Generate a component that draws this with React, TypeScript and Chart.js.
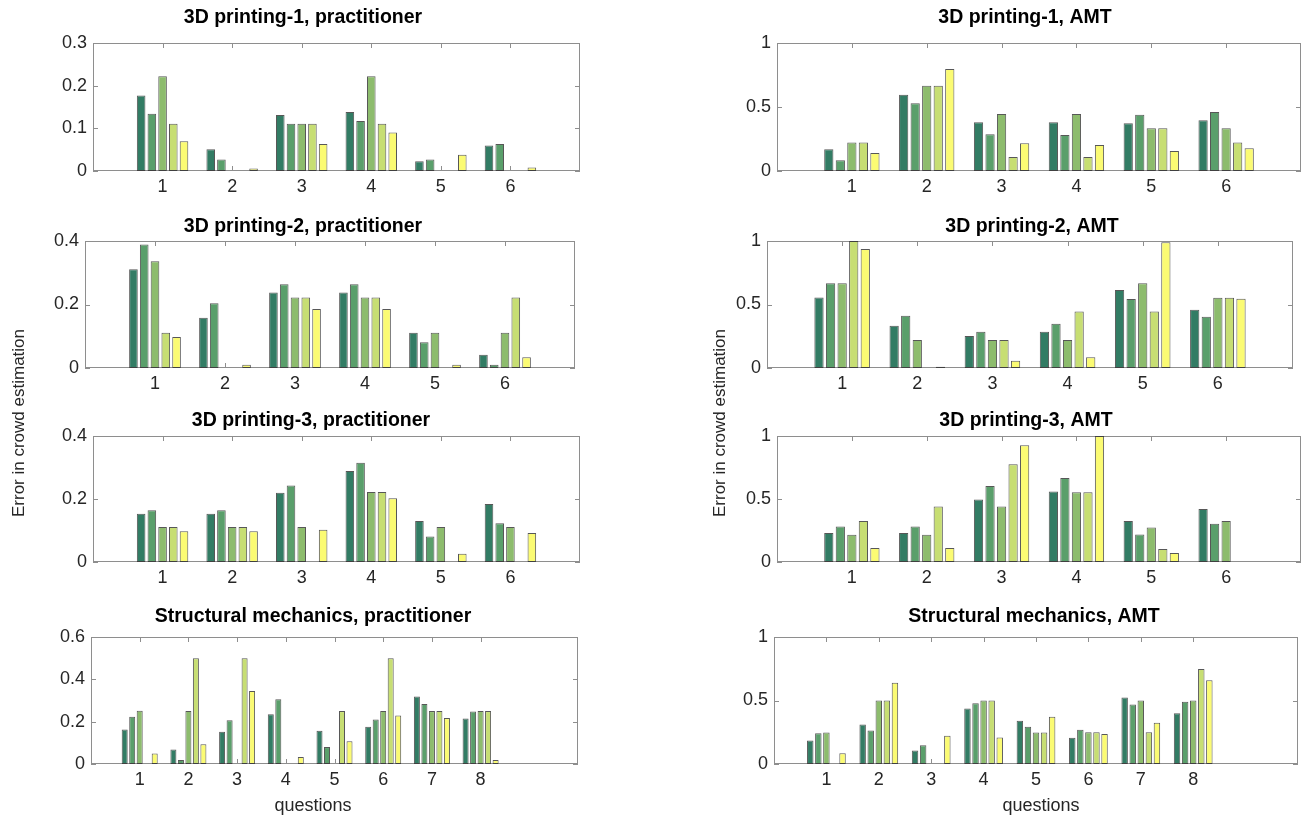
import React, { useEffect, useRef } from "react";
import { Chart, registerables } from "chart.js";

Chart.register(...registerables);

// ---------- data ----------
const questions6 = ["1", "2", "3", "4", "5", "6"];
const questions8 = ["1", "2", "3", "4", "5", "6", "7", "8"];

// each row = one bar series (dark green -> yellow), each column = one question
const print1Practitioner = [
  [0.177, 0.051, 0.131, 0.138, 0.023, 0.06],
  [0.134, 0.027, 0.111, 0.117, 0.027, 0.063],
  [0.222, 0, 0.111, 0.222, 0, 0],
  [0.111, 0, 0.111, 0.111, 0, 0],
  [0.07, 0.006, 0.063, 0.09, 0.038, 0.008],
];
const print2Practitioner = [
  [0.311, 0.158, 0.238, 0.238, 0.111, 0.042],
  [0.389, 0.204, 0.264, 0.264, 0.081, 0.01],
  [0.336, 0, 0.222, 0.222, 0.111, 0.111],
  [0.111, 0, 0.222, 0.222, 0, 0.222],
  [0.098, 0.01, 0.186, 0.186, 0.01, 0.034],
];
const print3Practitioner = [
  [0.153, 0.153, 0.22, 0.289, 0.13, 0.184],
  [0.164, 0.164, 0.243, 0.315, 0.081, 0.123],
  [0.111, 0.111, 0.111, 0.222, 0.111, 0.111],
  [0.111, 0.111, 0, 0.222, 0, 0],
  [0.098, 0.098, 0.102, 0.202, 0.026, 0.092],
];
const structPractitioner = [
  [0.163, 0.069, 0.152, 0.235, 0.157, 0.176, 0.319, 0.215],
  [0.223, 0.019, 0.207, 0.306, 0.08, 0.21, 0.284, 0.248],
  [0.251, 0.25, 0, 0, 0, 0.25, 0.25, 0.25],
  [0, 0.5, 0.5, 0, 0.25, 0.5, 0.25, 0.25],
  [0.05, 0.093, 0.345, 0.033, 0.108, 0.229, 0.217, 0.019],
];
const print1Amt = [
  [0.17, 0.595, 0.381, 0.381, 0.373, 0.397],
  [0.084, 0.53, 0.287, 0.282, 0.439, 0.46],
  [0.222, 0.666, 0.446, 0.446, 0.334, 0.334],
  [0.222, 0.666, 0.11, 0.11, 0.334, 0.222],
  [0.141, 0.796, 0.217, 0.204, 0.157, 0.178],
];
const print2Amt = [
  [0.556, 0.333, 0.252, 0.286, 0.614, 0.459],
  [0.667, 0.412, 0.286, 0.349, 0.543, 0.404],
  [0.667, 0.22, 0.22, 0.22, 0.667, 0.554],
  [1.0, 0, 0.22, 0.444, 0.444, 0.554],
  [0.937, 0.01, 0.058, 0.084, 0.99, 0.546],
];
const print3Amt = [
  [0.23, 0.23, 0.497, 0.56, 0.326, 0.421],
  [0.282, 0.282, 0.603, 0.666, 0.218, 0.303],
  [0.216, 0.216, 0.44, 0.553, 0.274, 0.326],
  [0.326, 0.44, 0.776, 0.553, 0.103, 0],
  [0.111, 0.111, 0.926, 1.0, 0.071, 0],
];
const structAmt = [
  [0.186, 0.312, 0.107, 0.437, 0.34, 0.207, 0.524, 0.4],
  [0.243, 0.264, 0.147, 0.479, 0.293, 0.27, 0.469, 0.49],
  [0.249, 0.5, 0, 0.5, 0.249, 0.25, 0.5, 0.5],
  [0, 0.5, 0, 0.5, 0.249, 0.25, 0.25, 0.749],
  [0.084, 0.639, 0.223, 0.209, 0.372, 0.236, 0.325, 0.66],
];

// ---------- styles ----------
const COLORS = ["#327c64", "#5a9f6b", "#8dbc6d", "#c7de73", "#fbfb73"];
const EDGE = "rgba(45,45,45,0.8)";
const AXIS = "#8e8e8e";
const TEXT = "#262626";
const FONT = "'Liberation Sans', Arial, Helvetica, sans-serif";

type PanelSpec = {
  title: string;
  series: number[][];
  questions: string[];
  xMax: number;
  yMax: number;
  yStep: number;
  L: number;
  R: number;
  T: number;
  B: number;
  titleX: number;
  titleY: number;
  xTitleX?: number;
};

const PAD_L = 70;
const PAD_T = 50;
const PAD_R = 4;

function Panel(p: PanelSpec) {
  const ref = useRef<HTMLCanvasElement | null>(null);
  const padB = p.xTitleX ? 66 : 36;
  const left = p.L - PAD_L;
  const top = p.T - PAD_T;
  const w = PAD_L + (p.R - p.L) + PAD_R;
  const h = PAD_T + (p.B - p.T) + padB;

  useEffect(() => {
    if (!ref.current) return;
    const n = p.questions.length;
    const labels: string[] = [""];
    p.questions.forEach((q) => labels.push(q));
    while (labels.length < p.xMax + 1) labels.push("");
    const pad = (vals: number[]) => {
      const out: (number | null)[] = [null];
      vals.forEach((v) => out.push(v));
      while (out.length < p.xMax + 1) out.push(null);
      return out;
    };

    const frame = {
      id: "matlabFrame",
      beforeDatasetsDraw(chart: any) {
        const { ctx, chartArea: a, scales } = chart;
        ctx.save();
        ctx.strokeStyle = AXIS;
        ctx.lineWidth = 1;
        ctx.strokeRect(Math.round(a.left) + 0.5, Math.round(a.top) + 0.5, Math.round(a.right - a.left) - 1, Math.round(a.bottom - a.top) - 1);
        const tl = 5;
        ctx.beginPath();
        for (let i = 1; i <= n; i++) {
          const x = Math.round(scales.x.getPixelForValue(i)) + 0.5;
          ctx.moveTo(x, a.bottom);
          ctx.lineTo(x, a.bottom - tl);
          ctx.moveTo(x, a.top);
          ctx.lineTo(x, a.top + tl);
        }
        scales.y.ticks.forEach((t: any) => {
          const y = Math.round(scales.y.getPixelForValue(t.value)) + 0.5;
          ctx.moveTo(a.left, y);
          ctx.lineTo(a.left + tl, y);
          ctx.moveTo(a.right, y);
          ctx.lineTo(a.right - tl, y);
        });
        ctx.stroke();
        ctx.restore();
      },
      afterDraw(chart: any) {
        const { ctx } = chart;
        ctx.save();
        ctx.fillStyle = "#000";
        ctx.font = `bold 19.5px ${FONT}`;
        ctx.textAlign = "center";
        ctx.textBaseline = "middle";
        ctx.fillText(p.title, p.titleX - left, p.titleY - top);
        if (p.xTitleX) {
          ctx.fillStyle = TEXT;
          ctx.font = `18px ${FONT}`;
          ctx.fillText("questions", p.xTitleX - left, 806 - top);
        }
        ctx.restore();
      },
    };

    const chart = new Chart(ref.current, {
      type: "bar",
      data: {
        labels,
        datasets: p.series.map((s, i) => ({
          data: pad(s),
          backgroundColor: COLORS[i],
          borderColor: EDGE,
          borderWidth: 1,
          borderSkipped: false,
          categoryPercentage: 0.77,
          barPercentage: 0.8,
        })) as any,
      },
      options: {
        responsive: false,
        animation: false,
        events: [],
        layout: { padding: { top: PAD_T, right: PAD_R, left: 0, bottom: 0 } },
        plugins: {
          legend: { display: false },
          tooltip: { enabled: false },
          title: { display: false },
        },
        scales: {
          x: {
            type: "category",
            offset: false,
            grid: { display: false, drawTicks: false },
            border: { display: false },
            ticks: {
              autoSkip: false,
              maxRotation: 0,
              minRotation: 0,
              padding: 5,
              color: TEXT,
              font: { family: FONT, size: 18 },
            },
            afterFit: (s: any) => {
              s.height = padB;
            },
          },
          y: {
            min: 0,
            max: p.yMax,
            grid: { display: false, drawTicks: false },
            border: { display: false },
            ticks: {
              stepSize: p.yStep,
              padding: 6,
              color: TEXT,
              font: { family: FONT, size: 18 },
              callback: (v: any) => String(Math.round(Number(v) * 10) / 10),
            },
            afterFit: (s: any) => {
              s.width = PAD_L;
            },
          },
        },
      } as any,
      plugins: [frame],
    });
    return () => chart.destroy();
  }, []);

  return (
    <div style={{ position: "absolute", left, top, width: w, height: h }}>
      <canvas ref={ref} width={w} height={h} style={{ width: w, height: h, display: "block" }} />
    </div>
  );
}

const panels: PanelSpec[] = [
  { title: "3D printing-1, practitioner", series: print1Practitioner, questions: questions6, xMax: 7, yMax: 0.3, yStep: 0.1, L: 93, R: 581, T: 43, B: 171, titleX: 303, titleY: 18 },
  { title: "3D printing-2, practitioner", series: print2Practitioner, questions: questions6, xMax: 7, yMax: 0.4, yStep: 0.2, L: 85, R: 576, T: 241, B: 368, titleX: 303, titleY: 227 },
  { title: "3D printing-3, practitioner", series: print3Practitioner, questions: questions6, xMax: 7, yMax: 0.4, yStep: 0.2, L: 93, R: 581, T: 436, B: 562, titleX: 311, titleY: 421 },
  { title: "Structural mechanics, practitioner", series: structPractitioner, questions: questions8, xMax: 10, yMax: 0.6, yStep: 0.2, L: 91, R: 579, T: 637, B: 764, titleX: 313, titleY: 617, xTitleX: 313 },
  { title: "3D printing-1, AMT", series: print1Amt, questions: questions6, xMax: 7, yMax: 1, yStep: 0.5, L: 777, R: 1302, T: 43, B: 171, titleX: 1025, titleY: 18 },
  { title: "3D printing-2, AMT", series: print2Amt, questions: questions6, xMax: 7, yMax: 1, yStep: 0.5, L: 767, R: 1294, T: 241, B: 368, titleX: 1032, titleY: 227 },
  { title: "3D printing-3, AMT", series: print3Amt, questions: questions6, xMax: 7, yMax: 1, yStep: 0.5, L: 777, R: 1302, T: 436, B: 562, titleX: 1026, titleY: 421 },
  { title: "Structural mechanics, AMT", series: structAmt, questions: questions8, xMax: 10, yMax: 1, yStep: 0.5, L: 774, R: 1299, T: 637, B: 764, titleX: 1034, titleY: 617, xTitleX: 1041 },
];

function YLabel({ x, y }: { x: number; y: number }) {
  return (
    <div
      style={{
        position: "absolute",
        left: x - 150,
        top: y - 12,
        width: 300,
        height: 24,
        lineHeight: "24px",
        textAlign: "center",
        fontFamily: FONT,
        fontSize: 17,
        color: TEXT,
        transform: "rotate(-90deg)",
        whiteSpace: "nowrap",
      }}
    >
      Error in crowd estimation
    </div>
  );
}

export default function App() {
  return (
    <div style={{ position: "absolute", left: 0, top: 0, width: 1311, height: 820, background: "#fff", overflow: "hidden" }}>
      {panels.map((p, i) => (
        <Panel key={i} {...p} />
      ))}
      <YLabel x={19} y={423} />
      <YLabel x={720} y={423} />
    </div>
  );
}
